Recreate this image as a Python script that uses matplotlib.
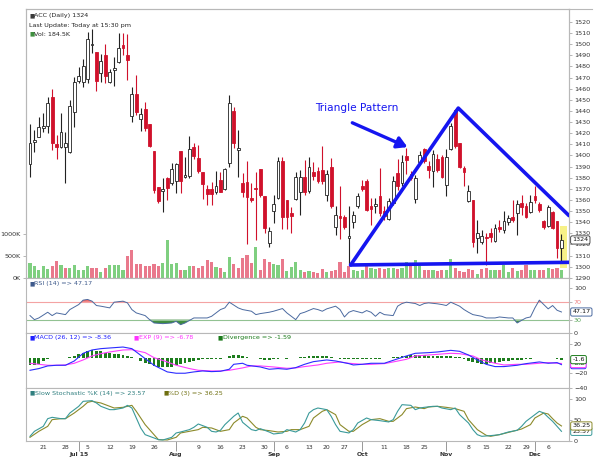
import numpy as np
import pandas as pd
import matplotlib
matplotlib.use("Agg")
import matplotlib.pyplot as plt
from matplotlib.lines import Line2D
from matplotlib.patches import Rectangle

# ---- daily candles, ACC ----
opens = [1392.3, 1412.4, 1416.9, 1425.0, 1426.8, 1452.9, 1410.3, 1407.9, 1407.9, 1403.4,
         1439.4, 1467.3, 1465.8, 1468.5, 1499.6, 1492.7, 1474.4, 1490.0, 1466.3, 1476.8,
         1483.7, 1499.3, 1490.0, 1435.8, 1454.9, 1432.5, 1441.5, 1428.3, 1404.0, 1371.3,
         1368.3, 1379.7, 1374.9, 1376.7, 1404.0, 1380.9, 1381.8, 1407.9, 1398.0, 1384.8,
         1369.8, 1369.8, 1366.8, 1377.9, 1369.5, 1392.9, 1440.3, 1404.9, 1375.5, 1376.4,
         1362.0, 1370.4, 1387.8, 1363.5, 1321.0, 1350.0, 1361.4, 1394.7, 1359.9, 1347.9,
         1360.5, 1366.9, 1380.7, 1368.4, 1385.2, 1385.8, 1386.7, 1364.8, 1389.5, 1335.5,
         1345.5, 1344.3, 1325.6, 1339.8, 1354.2, 1372.9, 1377.4, 1354.2, 1354.2, 1363.3,
         1349.7, 1342.8, 1357.2, 1384.3, 1375.3, 1399.1, 1383.4, 1360.8, 1394.3, 1405.4,
         1390.4, 1385.8, 1396.4, 1398.8, 1373.8, 1405.4, 1441.0, 1410.8, 1388.6, 1359.3,
         1359.6, 1325.6, 1322.0, 1327.1, 1330.7, 1323.5, 1336.1, 1333.1, 1339.8, 1344.6,
         1348.2, 1357.2, 1354.8, 1349.1, 1363.3, 1356.6, 1340.7, 1336.7, 1349.1, 1340.7,
         1316.6]
highs = [1428.3, 1422.9, 1434.3, 1437.9, 1452.9, 1459.5, 1418.4, 1437.9, 1421.4, 1449.9,
         1470.8, 1479.9, 1486.4, 1510.7, 1513.4, 1493.3, 1491.2, 1499.9, 1477.7, 1488.8,
         1509.8, 1509.8, 1509.2, 1461.3, 1472.3, 1442.4, 1448.4, 1428.3, 1404.0, 1371.9,
         1379.4, 1380.3, 1392.9, 1392.9, 1404.0, 1398.9, 1417.5, 1410.9, 1409.4, 1384.8,
         1373.4, 1375.8, 1386.3, 1385.4, 1388.4, 1454.4, 1443.3, 1422.9, 1383.9, 1394.7,
         1374.9, 1385.1, 1387.8, 1363.5, 1335.9, 1364.4, 1398.9, 1398.9, 1359.9, 1353.9,
         1385.4, 1386.7, 1396.0, 1398.8, 1394.0, 1389.8, 1408.4, 1387.3, 1397.9, 1354.8,
         1372.3, 1346.7, 1354.2, 1349.7, 1366.3, 1378.3, 1378.9, 1361.7, 1361.7, 1388.9,
         1354.2, 1361.7, 1381.3, 1396.4, 1400.0, 1406.9, 1385.8, 1382.8, 1403.9, 1406.9,
         1394.9, 1404.5, 1400.9, 1400.0, 1405.4, 1429.5, 1442.2, 1410.8, 1390.4, 1373.8,
         1359.6, 1342.2, 1333.1, 1330.1, 1334.6, 1338.6, 1342.2, 1349.7, 1346.7, 1360.2,
         1360.2, 1364.8, 1357.2, 1364.8, 1372.3, 1357.8, 1342.2, 1355.7, 1349.7, 1340.7,
         1329.5]
lows = [1380.3, 1403.4, 1416.3, 1421.4, 1419.9, 1404.9, 1396.8, 1406.4, 1375.5, 1402.5,
        1425.9, 1464.9, 1461.3, 1464.9, 1491.8, 1458.3, 1465.8, 1464.9, 1465.4, 1462.5,
        1482.8, 1490.3, 1467.9, 1430.4, 1436.4, 1422.3, 1422.0, 1407.9, 1365.9, 1356.9,
        1349.4, 1359.9, 1373.4, 1365.9, 1365.9, 1379.4, 1380.0, 1396.5, 1384.5, 1360.5,
        1355.4, 1355.4, 1365.3, 1367.4, 1368.9, 1389.9, 1406.4, 1380.3, 1362.9, 1320.0,
        1358.0, 1324.0, 1362.9, 1329.9, 1317.4, 1339.0, 1360.8, 1333.5, 1333.5, 1330.0,
        1359.9, 1346.7, 1364.8, 1366.3, 1378.3, 1375.3, 1374.7, 1358.7, 1352.7, 1328.6,
        1324.7, 1333.7, 1301.5, 1334.6, 1352.7, 1367.8, 1349.7, 1337.7, 1348.2, 1345.2,
        1342.2, 1342.2, 1355.7, 1369.3, 1372.3, 1383.7, 1378.3, 1357.2, 1391.9, 1393.4,
        1379.8, 1371.4, 1384.9, 1379.5, 1363.9, 1404.8, 1406.9, 1388.9, 1372.3, 1357.8,
        1318.1, 1312.0, 1320.5, 1301.5, 1322.6, 1322.6, 1331.6, 1330.1, 1337.7, 1340.1,
        1328.6, 1346.7, 1343.7, 1348.2, 1357.2, 1348.8, 1333.7, 1335.5, 1333.7, 1307.5,
        1304.5]
closes = [1410.9, 1413.9, 1425.3, 1426.8, 1446.9, 1410.9, 1407.9, 1420.8, 1411.5, 1444.5,
          1465.8, 1471.4, 1480.4, 1504.4, 1500.5, 1467.3, 1484.6, 1471.7, 1475.3, 1478.3,
          1496.3, 1496.3, 1485.8, 1454.9, 1439.4, 1437.0, 1424.4, 1408.8, 1369.2, 1358.7,
          1370.1, 1371.0, 1387.5, 1392.0, 1377.3, 1382.4, 1405.8, 1399.8, 1385.7, 1374.6,
          1365.3, 1365.0, 1372.5, 1367.4, 1387.5, 1446.9, 1410.9, 1407.0, 1366.8, 1362.3,
          1359.9, 1369.5, 1364.7, 1335.0, 1332.3, 1356.3, 1394.7, 1344.9, 1344.9, 1345.8,
          1380.3, 1380.7, 1366.9, 1389.5, 1381.3, 1377.4, 1376.8, 1383.4, 1354.2, 1346.1,
          1343.5, 1336.1, 1327.7, 1346.7, 1363.3, 1369.9, 1351.2, 1351.8, 1356.3, 1348.2,
          1345.2, 1358.7, 1376.8, 1372.3, 1394.0, 1396.1, 1379.8, 1379.8, 1400.6, 1394.9,
          1386.7, 1401.5, 1386.7, 1380.4, 1398.8, 1426.5, 1408.4, 1389.8, 1384.9, 1368.4,
          1322.6, 1330.7, 1327.7, 1325.6, 1326.5, 1334.6, 1333.7, 1340.7, 1343.7, 1341.6,
          1356.3, 1353.3, 1344.6, 1357.8, 1359.6, 1350.6, 1336.1, 1353.3, 1334.6, 1317.2,
          1324.0]
volumes_k = [333, 262, 190, 262, 206, 278, 397, 294, 238, 238, 302, 190, 190, 262, 238, 238,
             143, 238, 294, 294, 294, 190, 500, 635, 318, 318, 262, 262, 318, 262, 333, 873,
             318, 349, 190, 190, 270, 270, 238, 270, 413, 365, 254, 238, 135, 468, 326, 230,
             460, 532, 333, 715, 190, 421, 365, 326, 302, 421, 159, 246, 357,
             175, 143, 159, 143, 119, 214, 143, 159, 190, 365, 143, 270, 190, 159, 190, 270,
             238, 206, 238, 206, 238, 238, 214, 238, 357, 262, 413, 278, 175, 175, 175, 159,
             190, 190, 421, 238, 159, 127, 198, 175, 80, 198, 238, 175, 175, 175, 294, 143,
             238, 159, 190, 294, 175, 175, 190, 190, 238, 206, 238, 184.5]

# NSE holidays inside the window
holidays = ['2015-09-17', '2015-09-25', '2015-10-02', '2015-10-22', '2015-11-12', '2015-11-25']
dates = pd.bdate_range('2015-06-17', '2015-12-10', freq='C', holidays=holidays)

# ---- indicators, read at sampled candles ----
rsi_idx = [0, 1, 2, 4, 5, 6, 8, 9, 11, 12, 13, 14, 15, 16, 18, 19, 21, 22, 23, 24, 26, 27, 28,
           30, 32, 33, 34, 35, 37, 38, 40, 41, 43, 44, 45, 47, 48, 50, 51, 52, 54, 55, 57, 58,
           60, 61, 62, 64, 65, 66, 67, 69, 70, 71, 72, 73, 75, 76, 77, 78, 79, 80, 82, 83, 84,
           85, 87, 88, 89, 90, 92, 93, 94, 95, 97, 98, 99, 100, 102, 103, 104, 105, 106, 108,
           109, 110, 111, 112, 113, 114, 115, 116, 117, 118, 119, 120]
rsi_val = [39.1, 30.0, 33.8, 46.6, 39.1, 45.1, 41.3, 52.6, 63.9, 73.8, 75.3, 71.5, 61.7, 60.2,
           56.4, 69.2, 71.5, 67.7, 52.6, 45.1, 39.1, 30.0, 22.5, 21.0, 22.5, 26.2, 18.7, 22.5,
           33.8, 33.8, 33.8, 37.5, 52.6, 56.4, 69.2, 56.4, 52.6, 48.9, 41.3, 43.6, 46.6, 48.9,
           54.9, 45.1, 30.0, 43.6, 46.6, 54.9, 52.6, 48.9, 54.2, 60.2, 52.6, 36.0, 46.6, 50.4,
           45.1, 50.4, 46.6, 37.5, 46.6, 41.3, 39.1, 60.2, 66.2, 69.2, 66.2, 61.7, 66.2, 67.7,
           65.5, 63.9, 61.7, 69.2, 60.2, 52.6, 46.6, 41.3, 37.5, 33.8, 33.8, 33.8, 36.0, 33.8,
           33.8, 22.5, 28.5, 33.8, 36.0, 56.4, 73.8, 63.9, 54.2, 61.7, 51.1, 47.17]

macd_idx = [0, 2, 4, 6, 8, 10, 12, 14, 16, 18, 21, 23, 24, 26, 28, 31, 33, 35, 37, 39, 41, 43,
            45, 46, 48, 49, 52, 54, 56, 58, 60, 62, 64, 67, 69, 72, 73, 75, 77, 80, 82, 85, 87,
            90, 92, 95, 97, 99, 101, 103, 105, 107, 110, 112, 115, 117, 119, 120]
macd_val = [-16.0, -13.7, -10.1, -9.2, -9.2, -3.4, 7.0, 11.5, 13.3, 14.2, 15.5, 13.3, 8.8, -0.2,
            -9.2, -18.2, -20.0, -20.0, -18.2, -16.9, -17.8, -17.3, -14.6, -7.9, -6.5, -9.2,
            -11.5, -14.6, -13.7, -14.6, -12.4, -7.9, -4.3, -2.0, -3.4, -7.0, -8.8, -7.9, -6.5,
            -6.5, -2.5, 3.4, 7.0, 7.9, 8.8, 11.0, 9.7, 4.7, -2.0, -7.9, -11.0, -11.0, -9.2,
            -7.0, -4.7, -6.5, -5.6, -8.36]
exp_idx = [0, 2, 4, 6, 8, 10, 12, 14, 16, 18, 21, 23, 26, 28, 31, 33, 36, 38, 41, 43, 45, 48,
           50, 52, 55, 58, 60, 62, 65, 67, 70, 72, 75, 77, 80, 82, 85, 87, 90, 92, 95, 97, 100,
           102, 105, 107, 110, 112, 115, 117, 119, 120]
exp_val = [-6.5, -7.9, -9.2, -9.2, -8.8, -6.5, -2.0, 3.4, 6.5, 8.8, 11.5, 11.9, 7.9, 1.1, -4.7,
           -9.2, -13.7, -16.0, -16.9, -16.9, -16.0, -12.8, -10.1, -10.1, -11.5, -13.3, -12.8,
           -11.0, -8.8, -6.5, -4.7, -6.5, -7.9, -7.9, -7.0, -4.7, -1.1, 3.4, 4.7, 5.6, 7.0,
           6.5, 3.4, -2.0, -6.5, -8.8, -7.9, -7.9, -6.5, -5.6, -6.5, -6.78]
div_val = [-9, -8.5, -7, -3, -0.5, 0, 0.5, 0, 0.5, 2.5, 4, 6, 8, 10, 11, 10.5, 9.5, 8, 7, 6.5,
           6, 5, 4, 2, 0.5, -3, -6, -8, -10, -11.5, -12, -12, -11, -9.5, -8, -6, -4.5, -3,
           -1.5, -0.8, -0.5, -0.5, -0.3, -0.3, 0.5, 3, 5, 5, 4, 2, 0.3, 0, -1, -1.5, -1.5, -1,
           -0.5, 0.5, -0.3, 0.3, 0.5, 1.5, 2.5, 3, 3.5, 3.5, 3.5, 3.5, 2.5, 1, -0.5, -1, -1,
           -0.8, -0.5, -0.5, -0.3, -0.3, -0.3, -0.3, 0, 0.5, 1.5, 2.5, 3.5, 4, 4.5, 4.5, 4.5,
           4.5, 4, 4, 3.5, 3.5, 3, 3, 2.5, 1.5, -1, -3, -5, -6, -7, -7, -6.5, -5.5, -4.5, -3.5,
           -3, -2.5, -2, -1.5, -0.5, -0.3, 0.5, 1, 1, 0.5, 0, -0.8, -1.59]

k_idx = [0, 1, 3, 4, 5, 7, 8, 9, 11, 12, 14, 15, 16, 18, 19, 21, 22, 23, 24, 25, 26, 28, 29, 30,
         32, 33, 34, 36, 37, 38, 40, 41, 42, 43, 44, 46, 47, 48, 50, 51, 52, 54, 55, 57, 58, 60,
         61, 62, 63, 64, 65, 67, 68, 69, 70, 72, 73, 74, 76, 77, 79, 81, 82, 83, 84, 86, 87, 88,
         89, 91, 92, 93, 95, 96, 97, 99, 100, 101, 102, 104, 106, 108, 110, 111, 112, 114, 115,
         116, 117, 118, 119, 120]
k_val = [11.8, 23.6, 35.4, 53.5, 56.7, 53.5, 53.5, 66.9, 82.7, 94.5, 96.1, 90.6, 82.7, 74.8,
         74.8, 78.7, 85.0, 78.7, 55.1, 31.5, 15.7, 7.9, 3.9, 3.1, 9.4, 19.7, 22.0, 27.6, 33.1,
         40.9, 33.1, 23.6, 22.0, 26.0, 39.4, 59.1, 66.9, 44.9, 27.6, 25.2, 29.9, 22.0, 17.3,
         19.7, 27.6, 22.0, 27.6, 43.3, 66.9, 74.8, 78.7, 74.8, 59.1, 39.4, 23.6, 19.7, 27.6,
         43.3, 55.1, 51.2, 48.8, 45.7, 51.2, 70.9, 86.6, 85.0, 74.8, 78.7, 80.3, 82.7, 82.7,
         78.7, 74.8, 78.7, 63.0, 43.3, 27.6, 15.7, 11.8, 13.4, 15.7, 22.0, 26.0, 35.4, 47.2,
         63.0, 70.9, 66.9, 56.7, 47.2, 35.4, 23.57]
d_idx = [0, 2, 4, 5, 7, 8, 10, 12, 13, 14, 16, 18, 19, 21, 23, 24, 26, 28, 29, 31, 33, 34, 36,
         38, 39, 41, 43, 45, 46, 48, 49, 51, 52, 54, 56, 58, 59, 61, 63, 64, 66, 67, 69, 70, 72,
         73, 75, 77, 79, 81, 82, 84, 85, 87, 89, 90, 92, 94, 96, 98, 99, 101, 103, 104, 106,
         109, 111, 113, 114, 116, 117, 118, 119, 120]
d_val = [9.4, 23.6, 35.4, 51.2, 53.5, 53.5, 66.9, 82.7, 92.1, 94.5, 90.6, 82.7, 78.7, 80.3,
         85.0, 70.9, 39.4, 15.7, 3.9, 3.1, 9.4, 19.7, 23.6, 27.6, 33.1, 31.5, 23.6, 27.6, 43.3,
         59.1, 55.1, 33.1, 27.6, 25.2, 22.0, 23.6, 27.6, 27.6, 35.4, 55.1, 70.9, 74.8, 63.0,
         39.4, 23.6, 23.6, 39.4, 51.2, 53.5, 47.2, 47.2, 63.0, 77.2, 81.1, 77.2, 81.1, 82.7,
         80.3, 77.2, 70.9, 51.2, 27.6, 14.2, 11.8, 15.7, 23.6, 29.1, 39.4, 55.1, 66.9, 64.6,
         53.5, 43.3, 36.25]

# triangle drawn on the chart (candle index, price)
tri_idx = [72.4, 96.7, 121.7]
tri_px = [1301.5, 1442.6, 1345.9]
base_idx = [72.4, 121.7]
base_px = [1301.5, 1303.9]

# ---- layout helpers (reference pixel -> figure fraction) ----
W, H = 594, 461
def fx(px):
    return px / W
def fy(py):
    return 1 - py / H

LEFT, RIGHT = 25.7, 569
def panel(top, bottom):
    return [fx(LEFT), fy(bottom), fx(RIGHT) - fx(LEFT), (bottom - top) / H]

RED = '#d0112b'
DARK = '#222222'
GREEN_V = '#7fcf80'
PINK_V = '#e9798c'
FRAME = '#b8b8b8'
FS = 4.6

fig = plt.figure(figsize=(W / 100, H / 100), dpi=100)
fig.patch.set_facecolor('white')

n = len(closes)
x = np.arange(n)
o = np.array(opens)
c = np.array(closes)
hi = np.array(highs)
lo = np.array(lows)
up = c >= o
prev = np.r_[o[0], c[:-1]]
vol_col = [GREEN_V if c[i] >= prev[i] else PINK_V for i in range(n)]

def style(ax):
    for s in ax.spines.values():
        s.set_color(FRAME)
        s.set_linewidth(0.8)
    ax.set_xlim(-0.97, 121.7)
    ax.set_xticks([])
    ax.tick_params(axis='y', labelsize=FS, length=2, width=0.5, color='#999999',
                   pad=1.5, labelcolor='#333333')

# ---- main panel: volume underneath, price on top ----
ax_v = fig.add_axes(panel(9, 278))
style(ax_v)
ax_v.bar(x, volumes_k, width=0.7, color=vol_col, linewidth=0)
ax_v.set_ylim(0, 6114)
ax_v.set_yticks([0, 500, 1000])
ax_v.set_yticklabels(['0K', '500K', '1000K'])

ax = ax_v.twinx()
style(ax)
ax.set_ylim(1289.8, 1531.7)
ax.set_yticks(np.arange(1290, 1521, 10))

# yellow mark on the last candle
ax.add_patch(Rectangle((119.6, 1299.1), 1.6, 37.8, color='#f7f07a', alpha=0.9, lw=0, zorder=1))

wick_col = [DARK if u else RED for u in up]
ax.vlines(x, lo, hi, colors=wick_col, linewidth=0.8, zorder=2)
body_h = np.maximum(np.abs(c - o), 0.7)
ax.bar(x, body_h, bottom=np.minimum(o, c), width=0.62,
       color=['white' if u else RED for u in up],
       edgecolor=wick_col, linewidth=0.6, zorder=3)

# triangle pattern annotation
ax.plot(tri_idx, tri_px, color='#1515f0', lw=2.6, solid_capstyle='round', zorder=5)
ax.plot(base_idx, base_px, color='#1515f0', lw=2.6, solid_capstyle='round', zorder=5)
ax.annotate('', xy=(85.8, 1406.5), xytext=(72.2, 1430.4),
            arrowprops=dict(arrowstyle='-|>,head_length=0.6,head_width=0.35',
                            color='#1515f0', lw=2.4), zorder=5)
ax.text(64.3, 1442.7, 'Triangle Pattern', color='#1515f0', fontsize=7.6,
        va='center', ha='left', zorder=5)

ax.text(1.006, 1324, '1324', transform=ax.get_yaxis_transform(), fontsize=FS,
        va='center', ha='left', color='#111111',
        bbox=dict(boxstyle='round,pad=0.25', fc='white', ec='#333333', lw=0.6))

# header texts
fig.text(fx(29), fy(15.7), '\u25a0', color='#3a3a3a', fontsize=4, va='center')
fig.text(fx(34), fy(15.7), 'ACC (Daily) 1324', color='#222222', fontsize=FS, va='center')
fig.text(fx(29), fy(25), 'Last Update: Today at 15:30 pm', color='#222222', fontsize=FS, va='center')
fig.text(fx(29), fy(34.3), '\u25a0', color='#3f8f3f', fontsize=4, va='center')
fig.text(fx(34), fy(34.3), 'Vol: 184.5K', color='#222222', fontsize=FS, va='center')

def legend(ax, items, y):
    for px, col, txt in items:
        fig.text(fx(px), fy(y), '\u25a0', color=col, fontsize=4, va='center')
        fig.text(fx(px + 5), fy(y), txt, color=col, fontsize=FS, va='center')

def value_box(ax, v, txt, ec):
    ax.text(1.006, v, txt, transform=ax.get_yaxis_transform(), fontsize=FS,
            va='center', ha='left', color='#111111', clip_on=False,
            bbox=dict(boxstyle='round,pad=0.25', fc='white', ec=ec, lw=0.7))

# ---- RSI ----
ax_r = fig.add_axes(panel(278, 333))
style(ax_r)
ax_r.set_ylim(0, 123.5)
ax_r.yaxis.tick_right()
ax_r.set_yticks([0, 30, 70, 100])
ax_r.axhline(70, color='#f4a3a3', lw=0.8)
ax_r.axhline(30, color='#92c292', lw=0.8)
rv = np.array(rsi_val)
ax_r.fill_between(rsi_idx, 70, rv, where=rv > 70, interpolate=True, color='#f06a6a', lw=0)
ax_r.fill_between(rsi_idx, 30, rv, where=rv < 30, interpolate=True, color='#3d8b3d', lw=0)
ax_r.plot(rsi_idx, rsi_val, color='#4b6aa0', lw=0.7)
lab = ax_r.get_yticklabels()
lab[1].set_color('#5aa55a')
lab[2].set_color('#f08080')
value_box(ax_r, 47.17, '47.17', '#4b6aa0')
legend(ax_r, [(29, '#3e5a8c', 'RSI (14) => 47.17')], 283.5)

# ---- MACD ----
ax_m = fig.add_axes(panel(333, 388))
style(ax_m)
ax_m.set_ylim(-40, 34.5)
ax_m.yaxis.tick_right()
ax_m.set_yticks([-40, -20, 20])
ax_m.bar(x, div_val, width=0.65, color='#1d7d1d', linewidth=0)
ax_m.plot(exp_idx, exp_val, color='#ff3cff', lw=0.8)
ax_m.plot(macd_idx, macd_val, color='#2b2bff', lw=0.8)
value_box(ax_m, -8.36, '-8.4', '#2b2bff')
value_box(ax_m, -6.78, '-6.8', '#ff3cff')
value_box(ax_m, -1.59, '-1.6', '#1d7d1d')
legend(ax_m, [(29, '#2020ff', 'MACD (26, 12) => -8.36'),
              (134, '#ff33ff', 'EXP (9) => -6.78'),
              (217.8, '#1a7a1a', 'Divergence => -1.59')], 338)

# ---- Slow stochastic ----
ax_s = fig.add_axes(panel(388, 441.3))
style(ax_s)
ax_s.set_ylim(0, 126)
ax_s.yaxis.tick_right()
ax_s.set_yticks([0, 50, 100])
ax_s.plot(d_idx, d_val, color='#8c8a2a', lw=0.8)
ax_s.plot(k_idx, k_val, color='#3a9a9a', lw=0.8)
value_box(ax_s, 23.57, '23.57', '#3a9a9a')
value_box(ax_s, 36.25, '36.25', '#8c8a2a')
legend(ax_s, [(30, '#2f7f7f', 'Slow Stochastic %K (14) => 23.57'),
              (163.4, '#6f6f10', '%D (3) => 36.25')], 393.3)

# date axis: weekly labels (Sunday dates) and month marks
month_pos, month_lab = [], []
for i in range(1, n):
    if dates[i].month != dates[i - 1].month:
        month_pos.append(i if dates[i].weekday() == 0 else i + 1)
        month_lab.append(dates[i].strftime('%b'))
month_pos.insert(0, 11)
month_lab.insert(0, 'Jul 15')
month_pos = month_pos[:1] + month_pos[2:]
month_lab = month_lab[:1] + month_lab[2:]

week_pos, week_lab = [], []
for i in range(1, n):
    if dates[i].isocalendar()[1] != dates[i - 1].isocalendar()[1]:
        if min(abs(i - m) for m in month_pos) <= 1:
            continue
        sunday = dates[i] - pd.Timedelta(days=dates[i].weekday() + 1)
        week_pos.append(i)
        week_lab.append(str(sunday.day))

ax_s.set_xticks(week_pos)
ax_s.set_xticklabels(week_lab)
ax_s.set_xticks(month_pos, minor=True)
ax_s.set_xticklabels(month_lab, minor=True, fontweight='bold')
ax_s.tick_params(axis='x', which='major', length=0, pad=2.5, labelsize=4.4, labelcolor='#333333')
ax_s.tick_params(axis='x', which='minor', length=7, width=0.6, color='#888888', pad=0.6,
                 labelsize=4.4, labelcolor='#333333')

fig.add_artist(Line2D([fx(RIGHT), fx(592)], [fy(9), fy(9)], color=FRAME, lw=0.8))

fig.savefig('out.png', dpi=100, facecolor='white')
